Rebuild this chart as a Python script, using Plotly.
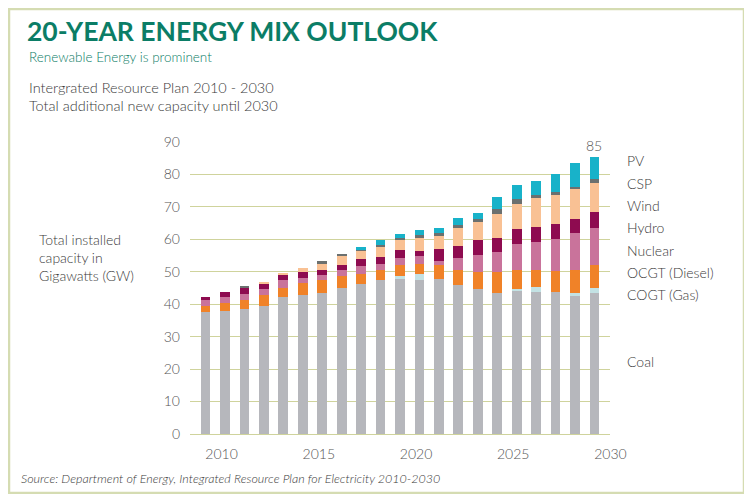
import plotly.graph_objects as go

# IRP 2010-2030, installed capacity per technology (GW)
years = list(range(2010, 2031))
coal = [37.6, 37.9, 38.4, 39.3, 42.1, 42.8, 43.4, 45.0, 46.2, 47.6, 47.8,
        47.6, 47.8, 45.8, 44.8, 43.5, 44.3, 43.8, 43.7, 42.6, 43.5]
gas = [0, 0, 0, 0, 0, 0, 0, 0, 0, 0, 0.9,
       1.6, 0, 0, 0, 0, 0.5, 1.4, 0, 0.9, 1.5]
diesel = [1.9, 2.5, 2.8, 3.5, 2.9, 3.6, 4.1, 3.7, 3.2, 3.0, 3.4,
          3.3, 4.2, 4.7, 5.1, 6.4, 5.9, 5.5, 6.5, 7.0, 7.2]
nuclear = [2.0, 1.8, 1.8, 2.0, 2.4, 1.8, 1.4, 1.7, 2.4, 1.9, 2.1,
           2.3, 1.3, 3.6, 5.2, 6.2, 8.0, 8.4, 9.8, 11.4, 11.4]
hydro = [0.6, 1.7, 2.0, 1.6, 1.7, 1.6, 1.8, 1.8, 2.0, 2.1, 2.6,
         1.6, 3.6, 3.8, 4.6, 4.4, 4.4, 4.6, 4.6, 4.5, 4.8]
wind = [0, 0, 0, 0.2, 0.6, 1.5, 2.0, 2.6, 2.7, 3.2, 2.9,
        4.3, 4.3, 5.7, 5.6, 7.4, 7.9, 9.1, 9.2, 9.0, 9.0]
csp = [0, 0, 0.5, 0, 0, 0, 0.6, 0.7, 0.5, 0.6, 0.7,
       0.6, 0.6, 0.9, 1.1, 1.3, 1.3, 0.9, 0.8, 0.7, 1.1]
pv = [0, 0, 0, 0, 0, 0, 0, 0, 0.5, 1.5, 1.3,
      1.7, 1.7, 2.1, 1.8, 3.8, 4.4, 4.3, 5.4, 7.5, 6.8]

x_ticks = [2010, 2015, 2020, 2025, 2030]
series_names = ["Coal", "COGT (Gas)", "OCGT (Diesel)", "Nuclear", "Hydro", "Wind", "CSP", "PV"]
series_values = [coal, gas, diesel, nuclear, hydro, wind, csp, pv]
colors = ["#b6b7bc", "#c3e2e4", "#f08228", "#c9739b", "#8e0b50", "#f9c194", "#6b706f", "#18b2c9"]
# where each legend label sits (y in GW units, layout only)
label_y = [22.5, 43, 49.8, 56.6, 63.6, 70.5, 77.3, 84.2]

FONT = "Lato"
GREEN = "#0b7d66"
TEXT = "#3a3a3a"

# the page has an 8px body margin, so the figure is a bit smaller than the window
OFF = 8
W, H = 752 - 2 * OFF, 502 - 2 * OFF
# plot area in window pixels
L, R, T, B = 190, 610, 142, 434


def px_x(p):
    return (p - L) / (R - L)


def px_y(p):
    return (B - p) / (B - T)


fig = go.Figure()
for name, vals, col in zip(series_names, series_values, colors):
    fig.add_trace(go.Bar(x=years, y=vals, name=name, marker=dict(color=col, line=dict(width=0)),
                         width=0.5, hovertemplate=name + ": %{y} GW<extra></extra>"))

annotations = []
# text beside the stack
for name, yv in zip(series_names, label_y):
    annotations.append(dict(x=px_x(625), xref="paper", y=yv, yref="y", text=name, showarrow=False,
                            xanchor="left", yanchor="middle",
                            font=dict(family=FONT, size=14, color=TEXT, weight=300)))

total_last = sum(v[-1] for v in series_values)
annotations.append(dict(x=years[-1], y=total_last, text=f"{total_last:.0f}", showarrow=False,
                        yanchor="bottom", yshift=1,
                        font=dict(family=FONT, size=14, color="#555555", weight=300)))

annotations += [
    dict(x=px_x(25), y=px_y(31), text="<b>20-YEAR ENERGY MIX OUTLOOK</b>",
         font=dict(family=FONT, size=26.5, color=GREEN, weight=900)),
    dict(x=px_x(27), y=px_y(57), text="Renewable Energy is prominent",
         font=dict(family=FONT, size=13.5, color=GREEN, weight=300)),
    dict(x=px_x(27), y=px_y(87), text="Intergrated Resource Plan 2010 - 2030",
         font=dict(family=FONT, size=14.5, color=TEXT, weight=300)),
    dict(x=px_x(27), y=px_y(105), text="Total additional new capacity until 2030",
         font=dict(family=FONT, size=14.5, color=TEXT, weight=300)),
    dict(x=px_x(37), y=px_y(257), text="Total installed<br>capacity in<br>Gigawatts (GW)", align="left",
         font=dict(family=FONT, size=14, color=TEXT, weight=300)),
    dict(x=px_x(19), y=px_y(478), text="<i>Source: Department of Energy, Integrated Resource Plan for Electricity 2010-2030</i>",
         font=dict(family=FONT, size=12.5, color=TEXT, weight=300)),
]
for a in annotations[-6:]:
    a.update(xref="paper", yref="paper", showarrow=False, xanchor="left", yanchor="middle")

fig.update_layout(
    width=W, height=H,
    margin=dict(l=L - OFF, r=W - (R - OFF), t=T - OFF, b=H - (B - OFF)),
    barmode="stack",
    bargap=0,
    showlegend=False,
    paper_bgcolor="white",
    plot_bgcolor="white",
    annotations=annotations,
    shapes=[dict(type="rect", xref="paper", yref="paper",
                 x0=px_x(OFF + 1), x1=px_x(744), y0=px_y(493), y1=px_y(OFF + 1),
                 line=dict(color="#d5dcb2", width=2.5), fillcolor="rgba(0,0,0,0)", layer="below")],
)

fig.update_xaxes(
    range=[2009.2, 2030.8],
    tickvals=x_ticks,
    ticktext=[str(t) for t in x_ticks],
    showgrid=False, zeroline=False, showline=False, ticks="",
    ticklabelshift=16, ticklabelstandoff=10,
    tickfont=dict(family=FONT, size=14, color="#555555", weight=300),
)
fig.update_yaxes(
    range=[0, 90], dtick=10,
    showgrid=True, gridcolor="#cfd39c", gridwidth=1,
    zeroline=True, zerolinecolor="#cfd39c", zerolinewidth=1,
    showline=False, ticks="",
    ticklabelstandoff=9,
    tickfont=dict(family=FONT, size=14, color="#555555", weight=300),
)

fig.write_html("out.html")
